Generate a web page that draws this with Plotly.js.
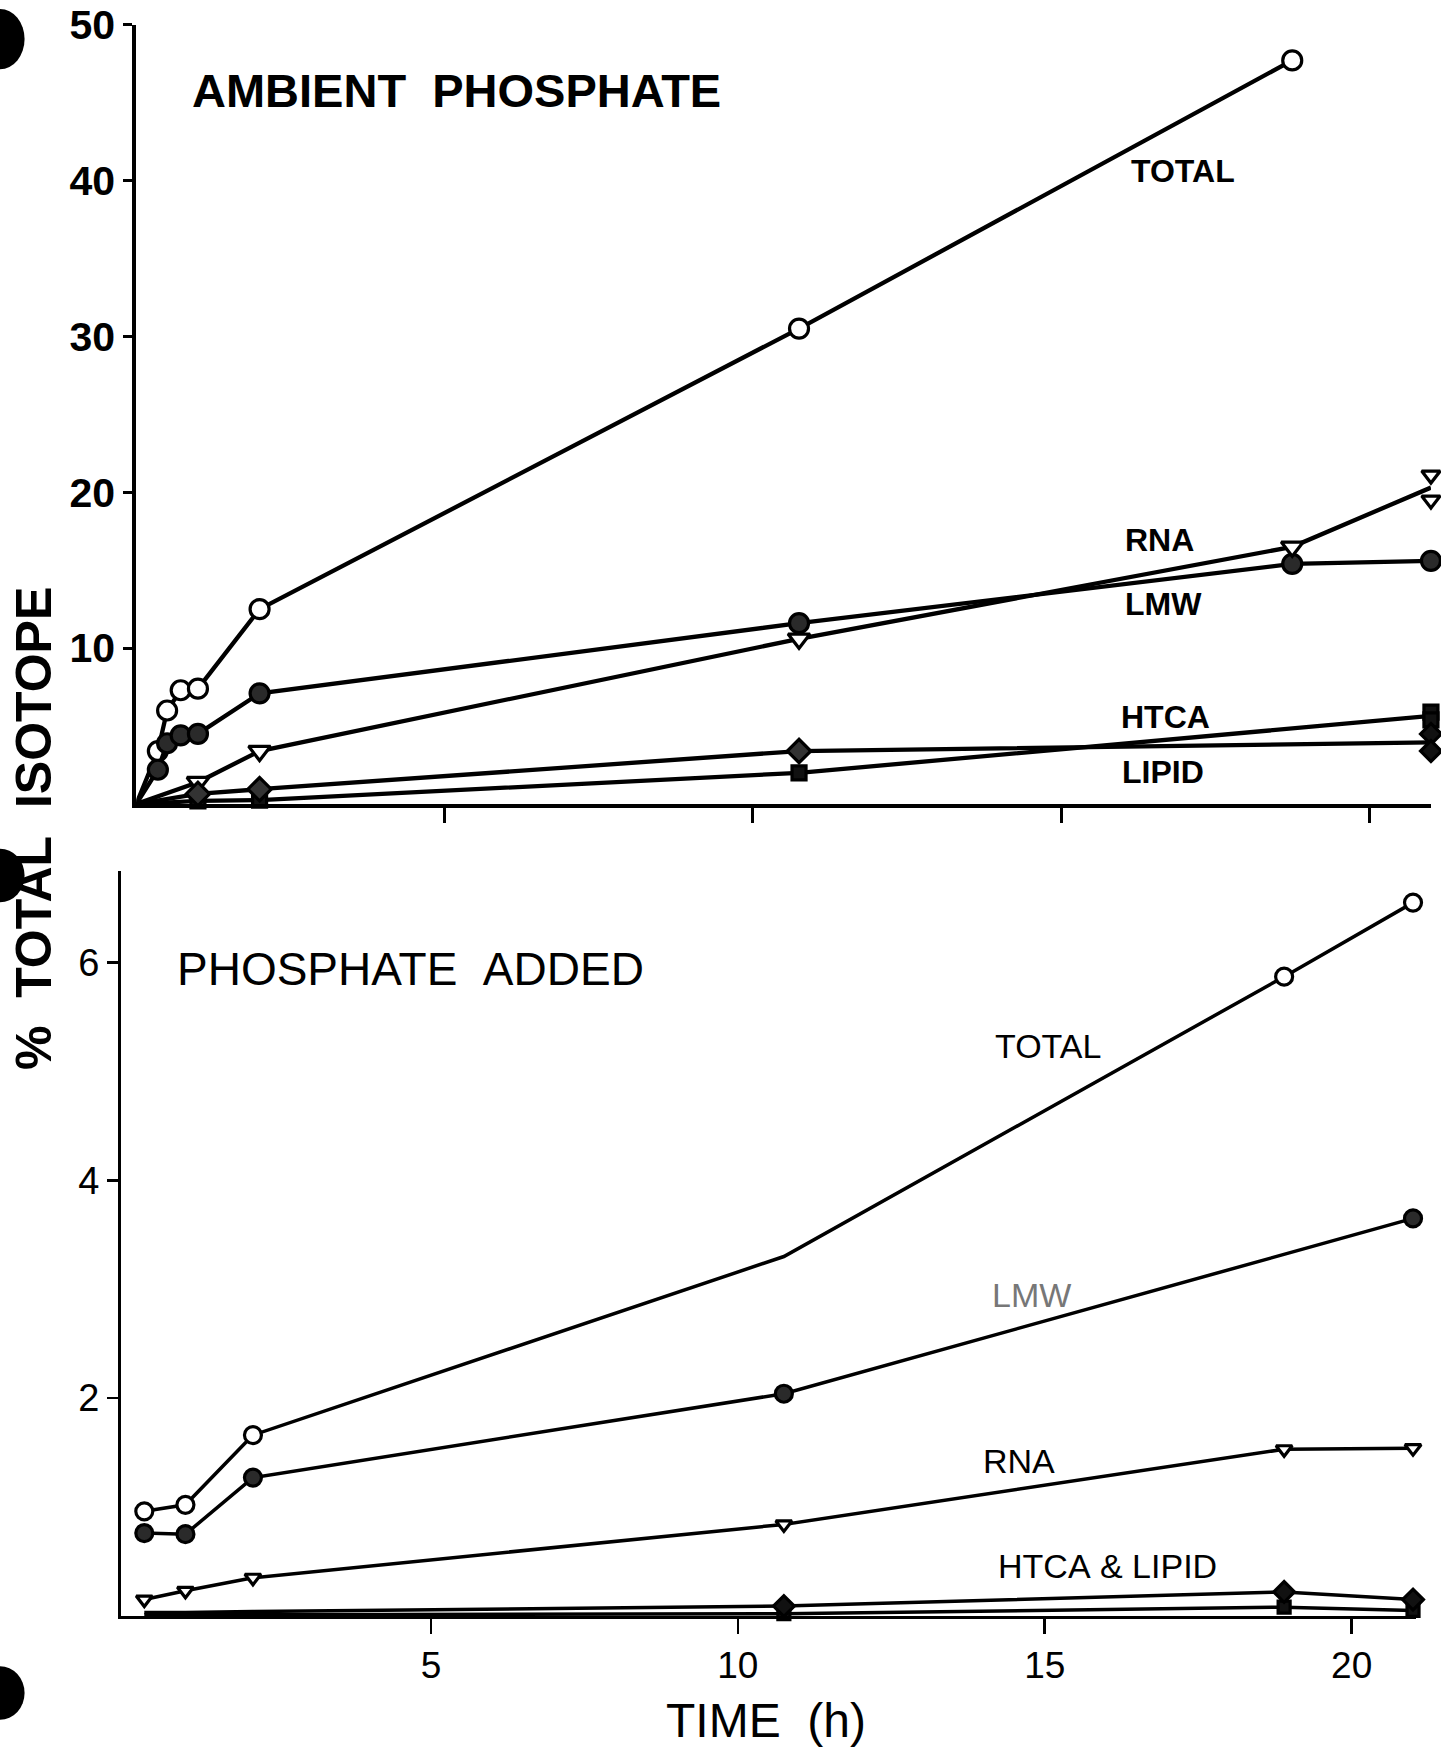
<!DOCTYPE html>
<html><head><meta charset="utf-8">
<script src="https://cdn.plot.ly/plotly-3.0.1.min.js"></script>
<style>html,body{margin:0;padding:0;background:#fff}</style>
</head><body><div id="chart" style="width:1441px;height:1751px"></div>
<script>
// ---------- DATA ----------
// Top panel: AMBIENT PHOSPHATE (% total isotope vs time, h)
const topTimes      = [0, 0.35, 0.5, 0.72, 1, 2, 10.75, 18.75, 21];
const topTotal      = [0, 3.4, 6.0, 7.3, 7.4, 12.5, 30.5, 47.7];
const topLMW        = [0, 2.2, 3.9, 4.4, 4.5, 7.1, 11.6, 15.4, 15.6];
const topRnaTimes   = [0, 1, 2, 10.75, 18.75];
const topRNA        = [0, 1.4, 3.4, 10.6, 16.5];
const topRnaEnd     = [21.1, 19.5];          // replicates at 21 h
const topHtLiTimes  = [0, 1, 2, 10.75];
const topHTCA       = [0, 0.2, 0.25, 2.0];
const topHtcaEnd    = [5.9, 5.4];            // replicates at 21 h
const topLIPID      = [0, 0.65, 0.95, 3.4];
const topLipidEnd   = [4.5, 3.4];            // replicates at 21 h
const endTime       = 21;

// Bottom panel: PHOSPHATE ADDED
const botTimes      = [0.33, 1, 2.1, 10.75, 18.9, 21];
const botTotal      = [0.96, 1.02, 1.66, 3.3, 5.87, 6.55];
const botLmwTimes   = [0.33, 1, 2.1, 10.75, 21];
const botLMW        = [0.76, 0.75, 1.27, 2.04, 3.65];
const botRNA        = [0.15, 0.23, 0.35, 0.84, 1.53, 1.54];
const botLIPID      = [0.03, 0.03, 0.04, 0.09, 0.22, 0.15];
const botHTCA       = [0.01, 0.01, 0.01, 0.02, 0.08, 0.05];

const topTicksY = [10, 20, 30, 40, 50];
const botTicksY = [2, 4, 6];
const ticksX    = [5, 10, 15, 20];

// ---------- helpers ----------
const mean = a => a.reduce((s, v) => s + v, 0) / a.length;
const BLK = '#000';
function series(x, y, xa, ya, sym, size, fill, lw, hidden) {
  return {
    type: 'scatter', mode: 'lines+markers', x: x, y: y, xaxis: xa, yaxis: ya,
    cliponaxis: false, hoverinfo: 'x+y',
    line: {color: BLK, width: lw},
    marker: {symbol: sym, size: size, color: fill, line: {color: BLK, width: 3.2},
             opacity: x.map((_, i) => hidden.includes(i) ? 0 : 1)}
  };
}
function reps(t, ys, xa, ya, sym, size, fill) {
  return {
    type: 'scatter', mode: 'markers', x: ys.map(() => t), y: ys, xaxis: xa, yaxis: ya,
    cliponaxis: false, hoverinfo: 'x+y',
    marker: {symbol: sym, size: size, color: fill, line: {color: BLK, width: 3.2}}
  };
}

const traces = [
  // top
  series(topTimes.slice(0, topTotal.length), topTotal, 'x', 'y', 'circle', 19, '#fff', 4.3, [0]),
  series(topTimes, topLMW, 'x', 'y', 'circle', 19, '#2a2a2a', 4.3, [0]),
  series(topRnaTimes.concat([endTime]), topRNA.concat([mean(topRnaEnd)]), 'x', 'y', 'triangle-down', 19, '#fff', 4.3, [0, topRnaTimes.length]),
  reps(endTime, topRnaEnd, 'x', 'y', 'triangle-down', 16, '#fff'),
  series(topHtLiTimes.concat([endTime]), topHTCA.concat([mean(topHtcaEnd)]), 'x', 'y', 'square', 14, '#111', 4.3, [0, topHtLiTimes.length]),
  reps(endTime, topHtcaEnd, 'x', 'y', 'square', 14, '#111'),
  series(topHtLiTimes.concat([endTime]), topLIPID.concat([mean(topLipidEnd)]), 'x', 'y', 'diamond', 18, '#333', 4.3, [0, topHtLiTimes.length]),
  reps(endTime, topLipidEnd, 'x', 'y', 'diamond', 16, '#111'),
  // bottom
  series(botTimes, botHTCA, 'x2', 'y2', 'square', 12, '#111', 3.5, [0, 1, 2]),
  series(botTimes, botLIPID, 'x2', 'y2', 'diamond', 16, '#111', 3.5, [0, 1, 2]),
  series(botTimes, botRNA, 'x2', 'y2', 'triangle-down', 14, '#fff', 3.5, []),
  series(botLmwTimes, botLMW, 'x2', 'y2', 'circle', 17, '#2a2a2a', 3.5, []),
  series(botTimes, botTotal, 'x2', 'y2', 'circle', 17, '#fff', 3.5, [3])
];

// ---------- layout (positions expressed in reference-picture units) ----------
const W = 1290, H = 1568;
const px = d => d / W, py = d => 1 - d / H;
const FONT = 'Liberation Sans, Arial, Helvetica, sans-serif';
const NB = '\u00a0';

function ann(text, x, y, size, weight, opts) {
  return Object.assign({text: text, x: px(x), y: py(y), xref: 'paper', yref: 'paper',
    showarrow: false, xanchor: 'center', yanchor: 'middle',
    font: {family: FONT, size: size, color: BLK, weight: weight}}, opts || {});
}

const axisBase = {showgrid: false, zeroline: false, showline: true, linecolor: BLK,
  ticks: 'outside', tickcolor: BLK, fixedrange: true};

const layout = {
  width: 1441, height: 1751, margin: {l: 0, r: 0, t: 0, b: 0},
  paper_bgcolor: '#fff', plot_bgcolor: 'rgba(0,0,0,0)', showlegend: false,
  font: {family: FONT, color: BLK},
  xaxis: Object.assign({}, axisBase, {domain: [px(122), px(1281)], range: [0, 21], anchor: 'y',
    linewidth: 3.5, tickwidth: 3, ticklen: 15, tickvals: ticksX, showticklabels: false}),
  yaxis: Object.assign({}, axisBase, {domain: [py(720), py(22)], range: [0, 50], anchor: 'x',
    linewidth: 4, tickwidth: 3, ticklen: 9, tickvals: topTicksY,
    tickfont: {family: FONT, size: 41, weight: 'bold', color: BLK}}),
  xaxis2: Object.assign({}, axisBase, {domain: [px(108.3), px(1267.7)], range: [-0.05, 21.05], anchor: 'y2',
    linewidth: 3, tickwidth: 2.5, ticklen: 15, tickvals: ticksX,
    tickfont: {family: FONT, size: 37, color: BLK}}),
  yaxis2: Object.assign({}, axisBase, {domain: [py(1447), py(780)], range: [0, 6.84], anchor: 'x2',
    linewidth: 3, tickwidth: 2.5, ticklen: 11, tickvals: botTicksY,
    tickfont: {family: FONT, size: 38, color: BLK}}),
  annotations: [
    ann('AMBIENT' + NB + NB + 'PHOSPHATE', 170, 81, 47, 'bold', {xanchor: 'left'}),
    ann('PHOSPHATE' + NB + NB + 'ADDED', 157, 868, 46, 'normal', {xanchor: 'left'}),
    ann('%' + NB + NB + 'TOTAL' + NB + NB + 'ISOTOPE', 30, 742, 50, 'bold', {textangle: -90}),
    ann('TIME' + NB + NB + '(h)', 686, 1541, 48, 'normal'),
    ann('TOTAL', 1059, 153, 32, 'bold'),
    ann('RNA', 1038, 484, 32, 'bold'),
    ann('LMW', 1042, 541, 32, 'bold'),
    ann('HTCA', 1043, 642, 32, 'bold'),
    ann('LIPID', 1041, 691, 32, 'bold'),
    ann('TOTAL', 938, 937, 34, 'normal'),
    ann('LMW', 923, 1160, 34, 'normal', {font: {family: FONT, size: 34, color: '#777'}}),
    ann('RNA', 912, 1308, 34, 'normal'),
    ann('HTCA' + NB + '&' + NB + 'LIPID', 991, 1402, 34, 'normal')
  ],
  shapes: [
    // binder holes along the left edge of the scanned page
    {type: 'circle', xref: 'paper', yref: 'paper', x0: px(-22), x1: px(22), y0: py(62), y1: py(8), fillcolor: BLK, line: {width: 0}},
    {type: 'circle', xref: 'paper', yref: 'paper', x0: px(-22), x1: px(22), y0: py(808), y1: py(760), fillcolor: BLK, line: {width: 0}},
    {type: 'circle', xref: 'paper', yref: 'paper', x0: px(-22), x1: px(22), y0: py(1540), y1: py(1492), fillcolor: BLK, line: {width: 0}}
  ]
};

Plotly.newPlot('chart', traces, layout, {displayModeBar: false, staticPlot: true});
</script></body></html>
